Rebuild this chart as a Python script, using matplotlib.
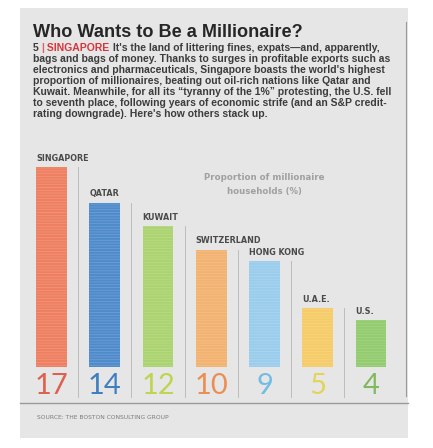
import matplotlib.pyplot as plt
from matplotlib.patches import Rectangle
from matplotlib.lines import Line2D

countries = ['SINGAPORE', 'QATAR', 'KUWAIT', 'SWITZERLAND', 'HONG KONG', 'U.A.E.', 'U.S.']
values = [17, 14, 12, 10, 9, 5, 4]
bar_colors = ['#ee7f60', '#4f8bcb', '#abd370', '#f2b270', '#9acdec', '#f5cc68', '#93cb6f']
num_colors = ['#e0604f', '#3f7fc0', '#bcd64e', '#ec8d52', '#72bde3', '#e2d456', '#7fba5e']

title = 'Who Wants to Be a Millionaire?'
body_first = "It's the land of littering fines, expats\u2014and, apparently,"
body_lines = [
    'bags and bags of money. Thanks to surges in profitable exports such as',
    "electronics and pharmaceuticals, Singapore boasts the world's highest",
    'proportion of millionaires, beating out oil-rich nations like Qatar and',
    'Kuwait. Meanwhile, for all its \u201ctyranny of the 1%\u201d protesting, the U.S. fell',
    'to seventh place, following years of economic strife (and an S&P credit-',
    "rating downgrade). Here's how others stack up.",
]
source = 'SOURCE: THE BOSTON CONSULTING GROUP'

W, H = 433, 448
fig = plt.figure(figsize=(W / 100, H / 100), dpi=100)
fig.patch.set_facecolor('white')

def fx(px):
    return px / W

def fy(py):
    return 1 - py / H

# page background (behind everything)
fig.patches.append(Rectangle((fx(20), fy(438)), fx(388), 430 / H,
                             transform=fig.transFigure, facecolor='#e6e6e7',
                             edgecolor='none', zorder=-5))
# column rule on the right and the line above the source
fig.add_artist(Line2D([fx(406), fx(406)], [fy(22), fy(396)], color='#9a9a9a', lw=0.8))
fig.add_artist(Line2D([fx(20), fx(408)], [fy(403), fy(403)], color='#9a9a9a', lw=1.0))

# header text
fig.text(fx(33), fy(37), title, fontsize=13.1, fontweight='bold', color='#262626',
         family='Liberation Sans', va='baseline')
bsize = 7.5
body_kw = dict(fontsize=bsize, fontweight='bold', color='#3c3c3c', family='Liberation Sans',
               va='baseline')
prev = fig.text(fx(33), fy(51), '5 ', **body_kw)
for s, c in [('|', '#e06060'), (' SINGAPORE', '#d8353b'), (' ' + body_first, '#3c3c3c')]:
    prev = fig.add_artist(plt.Annotation(s, xy=(1, 0), xycoords=prev, va='bottom',
                                         ha='left', fontsize=bsize, fontweight='bold',
                                         color=c, family='Liberation Sans'))
for i, line in enumerate(body_lines):
    fig.text(fx(33), fy(51 + 11 * (i + 1)), line, **body_kw)

fig.text(fx(37), fy(419), source, fontsize=4.3, color='#7a7a7a', family='DejaVu Sans')

# bar chart
ax = fig.add_axes([fx(24.9), fy(367), fx(383.4), 235 / H])
ax.set_xlim(-0.5, 6.7)
ax.set_ylim(0, 20)
ax.axis('off')

plt.rcParams['hatch.linewidth'] = 0.5
x = list(range(len(values)))
bars = ax.bar(x, values, width=0.58, color=bar_colors, linewidth=0, zorder=2)
for b in bars:
    b.set_hatch('------')
    b.set_edgecolor('#ffffff30')

for i, (v, name) in enumerate(zip(values, countries)):
    ax.text(i - 0.29, v + 0.35, name, fontsize=5.8, fontweight='bold', color='#4a4a4a',
            ha='left', va='bottom', family='DejaVu Sans', clip_on=False)
    ax.text(i, -1.6, str(v), fontsize=21, color=num_colors[i], ha='center', va='center',
            family='Lato', fontweight='normal', clip_on=False)
    if i < len(values) - 1:
        ax.plot([i + 0.5, i + 0.5], [v, -2.55], color='#b5b5b5', lw=0.6, clip_on=False)

ax.text(3.99, 15.5, 'Proportion of millionaire\nhouseholds (%)', fontsize=6.2,
        fontweight='bold', color='#a0a0a0', ha='center', va='center',
        family='DejaVu Sans', linespacing=1.7)

fig.savefig('out.png', dpi=100, facecolor=fig.get_facecolor())
